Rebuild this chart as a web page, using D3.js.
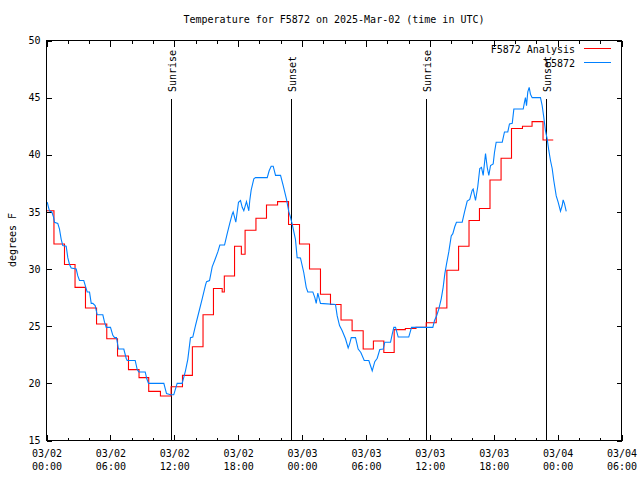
<!DOCTYPE html>
<html><head><meta charset="utf-8">
<script src="https://cdn.jsdelivr.net/npm/d3@7"></script>
<style>
body{margin:0;background:#fff}
text{font-family:"DejaVu Sans Mono",monospace;font-size:10px;fill:#000}
</style>
</head><body><svg id="c" width="640" height="480"></svg>
<script>
// ---- data ----
const title = "Temperature for F5872 on 2025-Mar-02 (time in UTC)";
const yLabel = "degrees F";
const seriesNames = ["F5872 Analysis", "F5872"];
const seriesColors = ["#ff0000", "#0080ff"];
const yTicks = [15, 20, 25, 30, 35, 40, 45, 50];
const startUTC = Date.UTC(2025, 2, 2, 0, 0);
const endUTC = Date.UTC(2025, 2, 4, 6, 0);
const sunLabels = ["Sunrise", "Sunset", "Sunrise", "Sunset"];
const sunHours = [11.77, 23.04, 35.72, 46.97];

// analysis (hours since 03/02 00:00 UTC, step start) and temps
const analysisHours = [0.0,0.7,1.69,2.68,3.66,4.7,5.66,6.67,7.7,8.69,9.6,10.7,11.7,12.77,13.7,14.7,15.68,16.5,16.7,17.66,18.3,18.65,19.67,20.66,21.7,22.73,23.76,24.7,25.73,26.67,27.66,28.7,29.74,30.7,31.68,32.65,33.7,34.7,35.66,36.6,37.6,38.7,39.68,40.66,41.65,42.69,43.67,44.7,45.6,46.63,47.59];
const analysisTemps = [35.1,32.2,30.4,28.4,26.6,25.2,23.9,22.4,21.2,20.5,19.3,18.9,19.7,20.7,23.2,26.0,28.3,28.0,29.4,32.0,31.3,33.4,34.45,35.6,35.9,33.9,32.2,30.0,27.8,26.9,25.55,24.6,23.0,23.7,22.7,24.7,24.8,24.9,25.3,26.6,29.9,32.0,34.25,35.3,37.8,39.7,42.3,42.5,42.9,41.3,41.3];

// observations
const obsHours = [0.07,0.19,0.28,0.50,0.66,0.75,1.06,1.22,1.38,1.53,1.85,2.00,2.16,2.32,2.79,2.94,3.10,3.50,3.63,3.82,4.04,4.20,4.35,4.57,4.76,5.29,5.45,5.61,6.01,6.23,6.39,6.57,6.76,7.26,7.48,7.58,8.33,8.52,8.67,9.27,9.42,9.58,11.02,11.27,11.65,11.95,12.27,12.74,13.05,13.27,13.52,13.74,13.99,14.30,14.62,14.93,15.03,15.31,15.56,15.81,16.09,16.28,16.72,16.97,17.21,17.44,17.53,17.78,18.03,18.22,18.38,18.53,18.78,19.00,19.09,19.22,19.47,19.63,20.73,20.91,21.10,21.29,21.51,21.98,22.23,22.54,22.76,22.91,23.07,23.38,23.54,23.85,24.16,24.39,24.54,25.01,25.20,25.33,25.48,25.73,27.14,27.30,27.52,27.77,28.08,28.33,28.48,28.62,29.02,29.27,29.52,29.84,30.27,30.59,30.83,31.06,31.30,31.62,31.77,32.31,32.47,32.62,32.78,33.03,34.02,34.28,36.28,36.44,36.63,36.84,37.07,37.25,37.41,37.57,37.78,38.01,38.16,38.34,38.50,39.04,39.26,39.51,39.75,39.98,40.07,40.29,40.50,40.69,40.85,41.01,41.23,41.39,41.54,41.70,41.95,42.07,42.23,42.80,43.01,43.32,43.48,43.74,43.89,44.77,44.89,44.98,45.08,45.20,45.33,45.45,45.61,46.39,46.55,46.70,46.86,47.02,47.17,47.33,47.49,47.64,47.87,48.05,48.27,48.43,48.52,48.65,48.81];
const obsTemps = [35.85,35.4,35.1,35.0,34.55,34.1,34.0,33.5,32.6,32.06,32.0,31.0,30.4,30.1,30.0,29.4,29.0,29.0,28.6,28.0,28.0,27.0,27.0,26.8,26.0,26.0,25.35,24.9,24.9,24.2,24.0,24.0,23.0,23.0,22.2,22.0,22.0,21.2,21.0,21.0,20.4,20.0,20.0,19.1,19.0,19.0,20.0,20.0,21.1,22.1,24.0,24.05,25.06,26.2,27.4,28.6,28.9,29.0,30.2,30.8,31.5,32.1,32.1,33.1,34.0,34.8,35.0,34.1,35.85,36.0,35.4,35.1,35.9,35.1,36.0,36.9,37.9,38.0,38.0,38.6,39.0,39.0,38.2,38.2,37.3,36.1,35.0,34.55,33.96,32.6,31.0,30.97,29.7,28.4,28.0,28.0,27.5,27.0,27.9,27.0,26.9,25.9,25.06,24.6,23.9,23.1,23.5,24.0,24.0,23.0,22.7,22.0,22.0,21.1,21.9,22.2,22.96,23.0,23.6,23.6,24.3,24.9,24.9,24.05,24.05,24.9,24.9,25.5,25.9,26.5,27.4,28.4,29.6,30.45,31.5,32.9,33.1,33.7,34.1,34.1,35.0,35.95,36.1,36.9,37.0,36.0,37.2,38.8,38.9,38.2,40.1,38.9,38.2,39.06,39.2,40.2,41.1,41.1,42.0,42.0,42.7,42.75,44.0,44.0,44.6,45.0,44.3,45.5,45.9,45.3,45.0,45.0,44.3,43.3,42.1,41.4,40.4,39.5,38.8,37.75,36.4,35.85,35.06,35.56,36.06,35.7,35.04];

// ---- drawing ----
const svg = d3.select("#c");
const L = 46.5, R = 621.5, T = 40.5, B = 440.5;
const toDate = h => new Date(startUTC + h * 3600e3);

const x = d3.scaleUtc().domain([new Date(startUTC), new Date(endUTC)]).range([L, R]);
const y = d3.scaleLinear().domain([15, 50]).range([B, T]);

// minor ticks (every 2h) bottom & top
const minor = d3.utcHour.every(2).range(new Date(startUTC), new Date(endUTC + 1));
svg.append("g").attr("transform", `translate(0,${B})`)
  .call(d3.axisBottom(x).tickValues(minor).tickSize(-3).tickFormat(""))
  .call(g => g.select(".domain").remove());
svg.append("g").attr("transform", `translate(0,${T})`)
  .call(d3.axisTop(x).tickValues(minor).tickSize(-3).tickFormat(""))
  .call(g => g.select(".domain").remove());

// major ticks bottom with labels
const major = d3.utcHour.every(6).range(new Date(startUTC), new Date(endUTC + 1));
const fmtD = d3.utcFormat("%m/%d"), fmtT = d3.utcFormat("%H:%M");
const gx = svg.append("g").attr("transform", `translate(0,${B})`)
  .call(d3.axisBottom(x).tickValues(major).tickSize(-6).tickPadding(8).tickFormat(""))
  .call(g => g.select(".domain").remove());
gx.selectAll(".tick text").each(function(d) {
  const t = d3.select(this).attr("y", null).attr("dy", null);
  t.append("tspan").attr("x", 0).attr("y", 16).text(fmtD(d));
  t.append("tspan").attr("x", 0).attr("y", 29).text(fmtT(d));
});
svg.append("g").attr("transform", `translate(0,${T})`)
  .call(d3.axisTop(x).tickValues(major).tickSize(-6).tickFormat(""))
  .call(g => g.select(".domain").remove());

// y axis
svg.append("g").attr("transform", `translate(${L},0)`)
  .call(d3.axisLeft(y).tickValues(yTicks).tickSize(-5).tickPadding(6))
  .call(g => g.select(".domain").remove())
  .call(g => g.selectAll(".tick text").attr("font-family", "DejaVu Sans").attr("font-size", "10px"));
svg.append("g").attr("transform", `translate(${R},0)`)
  .call(d3.axisRight(y).tickValues(yTicks).tickSize(-5).tickFormat(""))
  .call(g => g.select(".domain").remove());

svg.selectAll(".tick line").attr("stroke", "#000").attr("shape-rendering", "crispEdges");
svg.selectAll(".tick text").attr("fill", "#000").style("font-size", "10px");

// sunrise/sunset lines
sunHours.forEach((h, i) => {
  const xx = Math.round(x(toDate(h)) - 0.5) + 0.5;
  svg.append("line").attr("x1", xx).attr("x2", xx).attr("y1", 99).attr("y2", B)
    .attr("stroke", "#000").attr("stroke-width", 1).attr("shape-rendering", "crispEdges");
  svg.append("text").attr("transform", `translate(${xx + 0.5},92) rotate(-90)`)
    .attr("dy", "0.35em").attr("text-anchor", "start").text(sunLabels[i]);
});

// series
const red = analysisHours.map((h, i) => [toDate(h), analysisTemps[i]]);
const blue = obsHours.map((h, i) => [toDate(h), obsTemps[i]]);
svg.append("path").datum(red)
  .attr("d", d3.line().x(d => x(d[0])).y(d => y(d[1])).curve(d3.curveStepAfter))
  .attr("fill", "none").attr("stroke", seriesColors[0]).attr("stroke-width", 1.1);
svg.append("path").datum(blue)
  .attr("d", d3.line().x(d => x(d[0])).y(d => y(d[1])))
  .attr("fill", "none").attr("stroke", seriesColors[1]).attr("stroke-width", 1.1);

// border
svg.append("rect").attr("x", L).attr("y", T).attr("width", R - L).attr("height", B - T)
  .attr("fill", "none").attr("stroke", "#000").attr("shape-rendering", "crispEdges");

// title & labels
svg.append("text").attr("x", (L + R) / 2).attr("y", 19).attr("dy", "0.35em")
  .attr("text-anchor", "middle").text(title);
svg.append("text").attr("transform", "translate(12,240) rotate(-90)")
  .attr("text-anchor", "middle").attr("dy", "0.35em")
  .attr("font-family", "DejaVu Sans").text(yLabel);

// legend
seriesNames.forEach((n, i) => {
  const yy = 49.5 + i * 13.5;
  const ly = (i === 0 ? 48.5 : 62.5);
  svg.append("text").attr("x", 575).attr("y", yy).attr("dy", "0.35em")
    .attr("text-anchor", "end").text(n);
  svg.append("line").attr("x1", 584).attr("x2", 611).attr("y1", ly).attr("y2", ly)
    .attr("stroke", seriesColors[i]).attr("stroke-width", 1);
});
</script></body></html>
